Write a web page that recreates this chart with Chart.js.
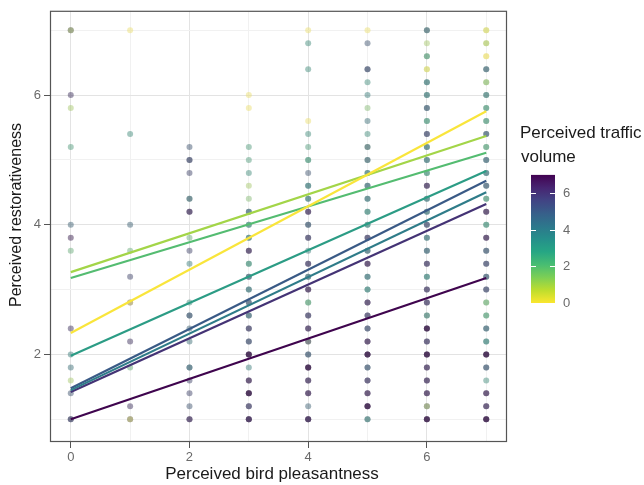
<!DOCTYPE html>
<html><head><meta charset="utf-8">
<script src="https://cdn.jsdelivr.net/npm/chart.js@4"></script>
<style>html,body{margin:0;padding:0;background:#fff}#wrap{width:644px;height:485px;position:relative}</style>
</head><body><div id="wrap"><canvas id="c" width="644" height="485"></canvas></div>
<script>
// ---------- DATA ----------
const xTitle = 'Perceived bird pleasantness';
const yTitle = 'Perceived restorativeness';
const legendTitle = ['Perceived traffic', 'volume'];
const xTicks = [0, 2, 4, 6];
const yTicks = [2, 4, 6];
const legendTicks = [0, 2, 4, 6];

// Points: per bird-pleasantness column, restorativeness levels and traffic values of overlapping observations
const col0Y = [7, 6, 5.8, 5.2, 4, 3.8, 3.6, 2.4, 2, 1.8, 1.6, 1.4, 1];
const col0Z = [[6.5,1],[6],[1],[2.5],[4.5],[6.5],[2],[6],[3.5],[4],[1],[5],[6.5,5]];
const col1Y = [7, 5.4, 4, 3.6, 3.2, 2.8, 2.2, 1.8, 1.2, 1];
const col1Z = [[0],[3],[4.5],[2],[5.5],[6,0],[6],[2],[6],[6.5,0.5]];
const col2Y = [5.2, 5, 4.8, 4.4, 4.2, 3.8, 3.6, 3.4, 2.8, 2.6, 2.4, 2.2, 1.8, 1.6, 1.4, 1.2, 1];
const col2Z = [[5],[6,5],[5.5],[2.5,5],[6.5,6],[2],[5.5],[3.5],[3],[4.5,5],[4.5],[4],[5,4],[5.5],[5.5],[5],[6.5,6]];
const col3Y = [6, 5.8, 5.2, 5, 4.8, 4.6, 4.4, 4.2, 4, 3.8, 3.6, 3.4, 3.2, 3, 2.8, 2.6, 2.4, 2.2, 2, 1.8, 1.6, 1.4, 1.2, 1];
const col3Z = [[0],[0],[2.5],[2.5],[3],[1],[1.5],[5,4],[3.5,3],[3,4],[6.5,6],[2.5,3],[4,5],[3.5,4],[4.5,5],[5,4],[5,6],[5.5,5],[6.5,6,7],[3.5],[6,6.5],[6.5,6,7],[6,5.5],[7,6.5,6]];
const col4Y = [7, 6.8, 6.4, 5.6, 5.4, 5.2, 5, 4.8, 4.6, 4.4, 4.2, 4, 3.8, 3.6, 3.4, 3.2, 3, 2.8, 2.6, 2.4, 2.2, 2, 1.8, 1.6, 1.4, 1.2, 1];
const col4Z = [[0],[3],[3],[0],[3],[2.5],[3,2.5],[5],[4,3.5],[3,4],[6.5,6],[4.5,5],[5,6],[3.5],[5.5,6],[4.5,4],[6,6.5],[3,2],[6,5.5],[6.5,6],[1.5,6],[4.5,5],[6.5,6,7],[6.5,6],[6,6.5],[4.5],[7,6.5,6]];
const col5Y = [7, 6.8, 6.4, 6.2, 6, 5.8, 5.6, 5.4, 5.2, 5, 4.8, 4.6, 4.4, 4.2, 4, 3.8, 3.6, 3.4, 3.2, 3, 2.8, 2.6, 2.4, 2.2, 2, 1.8, 1.6, 1.4, 1.2, 1];
const col5Z = [[0],[5],[5.5,5],[3],[3.5],[1.5],[4],[3],[2,5],[2.5,5],[3,4],[3.5,4.5],[3.5,4],[3.5,3],[3,3.5],[5,6],[4.5,4],[6,6.5],[3.5,4],[3,3.5],[6.5,6],[6,5.5],[5.5,5],[6,6.5],[6.5,6,7],[4.5,5],[5.5,6],[6,6.5],[6.5,6,7],[5,3]];
const col6Y = [7, 6.8, 6.6, 6.4, 6.2, 6, 5.8, 5.6, 5.4, 5.2, 5, 4.8, 4.6, 4.4, 4.2, 4, 3.8, 3.6, 3.4, 3.2, 3, 2.8, 2.6, 2.4, 2.2, 2, 1.8, 1.6, 1.4, 1.2, 1];
const col6Z = [[2.5,5],[1],[1.5,3],[0,0.5],[3,4],[3,4],[4,5],[3,2.5],[5,5.5],[3.5,4],[3.5,4],[2.5,3],[6.5,6],[3.5,4],[3.5,4],[5,5.5],[3.5,4],[4,4.5],[5.5,6],[3,3.5],[5.5,6],[5.5,6],[2,4],[6.5,6,7],[5.5,6],[6.5,6,7],[6.5,6],[6.5,6],[6,6.5],[6,1],[6.5,6,7]];
const col7Y = [7, 6.8, 6.6, 6.4, 6.2, 6, 5.8, 5.6, 5.4, 5.2, 5, 4.8, 4.6, 4.4, 4.2, 4, 3.8, 3.6, 3.4, 3.2, 3, 2.8, 2.6, 2.4, 2.2, 2, 1.8, 1.6, 1.4, 1.2, 1];
const col7Z = [[0,0.5],[0.5,1],[0,0],[3,5],[1,1.5],[2.5,4],[2,3],[2,3],[4,5],[2,2.5],[4,4.5],[3.5,4],[4,5],[2,3],[6,6.5],[2.5,3],[6,6.5],[4.5,5],[5,5.5],[5,4.5],[5,5.5],[1.5,2],[2,2.5],[4,4.5],[3,3.5],[6.5,6,7],[4.5,5],[3],[6,6.5],[6.5,6],[6.5,6,7]];

// Fitted lines, one per traffic level
const lineZ = [0, 1, 2, 3, 4, 5, 6, 7];
const lineX = [0, 7];
const lineStartY = [2.33, 3.27, 3.18, 1.98, 1.45, 1.48, 1.42, 1.00];
const lineEndY   = [5.75, 5.37, 5.11, 4.83, 4.50, 4.68, 4.32, 3.18];

// ---------- STYLE / HELPERS ----------
const FONT = '"Liberation Sans", Arial, Helvetica, sans-serif';
const VIR = ['#440154','#482475','#414487','#355f8d','#2a788e','#21918c','#22a884','#44bf70','#7ad151','#bddf26','#fde725'];
function hexRgb(h){return [parseInt(h.slice(1,3),16),parseInt(h.slice(3,5),16),parseInt(h.slice(5,7),16)];}
function viridis(t){
  t = Math.max(0, Math.min(1, t));
  const p = t * (VIR.length - 1), i = Math.min(VIR.length - 2, Math.floor(p)), f = p - i;
  const a = hexRgb(VIR[i]), b = hexRgb(VIR[i+1]);
  return [0,1,2].map(k => a[k] + (b[k]-a[k]) * f);
}
function trafficColor(z, alpha, desat){
  let c = viridis(1 - z / 7);
  if (desat) {
    const L = 0.3 * c[0] + 0.59 * c[1] + 0.11 * c[2];
    c = c.map(v => v * (1 - desat) + L * desat);
  }
  return 'rgba(' + c.map(v => Math.round(v)).join(',') + ',' + alpha + ')';
}

const colsY = [col0Y, col1Y, col2Y, col3Y, col4Y, col5Y, col6Y, col7Y];
const colsZ = [col0Z, col1Z, col2Z, col3Z, col4Z, col5Z, col6Z, col7Z];
const points = [];
colsY.forEach((ys, cx) => {
  ys.forEach((y, i) => {
    colsZ[cx][i].forEach(z => points.push({x: cx, y: y, z: z}));
  });
});

const lineDatasets = lineZ.map((z, i) => ({
  type: 'scatter',
  showLine: true,
  data: [{x: lineX[0], y: lineStartY[i]}, {x: lineX[1], y: lineEndY[i]}],
  borderColor: trafficColor(z, 1, 0.12),
  backgroundColor: trafficColor(z, 1, 0.12),
  borderWidth: 2.2,
  pointRadius: 0,
  fill: false,
  order: 0
}));

const pointDataset = {
  type: 'scatter',
  data: points,
  pointRadius: 3,
  pointBorderWidth: 0,
  pointBackgroundColor: ctx => trafficColor(ctx.raw ? ctx.raw.z : 0, 0.5, 0.45),
  pointBorderColor: 'rgba(0,0,0,0)',
  order: 1
};

const deco = {
  id: 'deco',
  afterDraw(chart) {
    const ctx = chart.ctx, a = chart.chartArea;
    ctx.save();
    // panel border
    ctx.strokeStyle = '#555555';
    ctx.lineWidth = 1.2;
    ctx.strokeRect(a.left + 0.5, a.top + 0.5, a.right - a.left - 1, a.bottom - a.top - 1);
    // axis titles
    ctx.fillStyle = '#1a1a1a';
    ctx.textAlign = 'center';
    ctx.textBaseline = 'middle';
    ctx.font = '17px ' + FONT;
    ctx.fillText(xTitle, 272, 474);
    ctx.save();
    ctx.translate(17, 215);
    ctx.rotate(-Math.PI / 2);
    ctx.font = '16px ' + FONT;
    ctx.fillText(yTitle, 0, 0);
    ctx.restore();
    // legend title
    ctx.textAlign = 'left';
    ctx.font = '17px ' + FONT;
    ctx.fillText(legendTitle[0], 520, 133);
    ctx.fillText(legendTitle[1], 521, 157);
    // colour bar
    const bx = 531, bw = 24, y0 = 303, unit = 18.3, ytop = y0 - 7 * unit;
    const g = ctx.createLinearGradient(0, y0, 0, ytop);
    for (let k = 0; k <= 20; k++) {
      const v = 7 * k / 20;
      g.addColorStop(k / 20, trafficColor(v, 1, 0.05));
    }
    ctx.fillStyle = g;
    ctx.fillRect(bx, ytop, bw, y0 - ytop);
    ctx.strokeStyle = '#ffffff';
    ctx.lineWidth = 1;
    ctx.fillStyle = '#6a6a6a';
    ctx.font = '13px ' + FONT;
    ctx.textBaseline = 'middle';
    legendTicks.forEach(v => {
      const y = Math.round(y0 - v * unit) + 0.5;
      ctx.beginPath();
      ctx.moveTo(bx, y); ctx.lineTo(bx + 5, y);
      ctx.moveTo(bx + bw - 5, y); ctx.lineTo(bx + bw, y);
      ctx.stroke();
      ctx.fillText(String(v), 563, y);
    });
    ctx.restore();
  }
};

const gridColor = c => (c.tick && Math.round(c.tick.value) % 2 !== 0) ? '#f1f1f1' : '#e3e3e3';
const tickMarkColor = c => (c.tick && Math.round(c.tick.value) % 2 !== 0) ? 'rgba(0,0,0,0)' : '#555555';

new Chart(document.getElementById('c').getContext('2d'), {
  type: 'scatter',
  data: { datasets: [...lineDatasets, pointDataset] },
  options: {
    responsive: false,
    devicePixelRatio: 1,
    animation: false,
    layout: { padding: { top: 8, right: 137, left: 0, bottom: 0 } },
    plugins: { legend: { display: false }, tooltip: { enabled: false } },
    scales: {
      x: {
        type: 'linear', min: -0.35, max: 7.35,
        afterBuildTicks: s => { s.ticks = [0,1,2,3,4,5,6,7].map(v => ({ value: v })); },
        afterFit: s => { s.height = 43; },
        ticks: {
          callback: v => xTicks.includes(v) ? String(v) : '',
          color: '#6a6a6a', font: { size: 13, family: FONT }, padding: 2,
          maxRotation: 0, autoSkip: false
        },
        grid: { color: gridColor, lineWidth: 1, tickColor: tickMarkColor, tickLength: 6 },
        border: { display: false }
      },
      y: {
        type: 'linear', min: 0.65, max: 7.30,
        afterBuildTicks: s => { s.ticks = [1,2,3,4,5,6,7].map(v => ({ value: v })); },
        afterFit: s => { s.width = 50; },
        ticks: {
          callback: v => yTicks.includes(v) ? String(v) : '',
          color: '#6a6a6a', font: { size: 13, family: FONT }, padding: 3, autoSkip: false
        },
        grid: { color: gridColor, lineWidth: 1, tickColor: tickMarkColor, tickLength: 6 },
        border: { display: false }
      }
    }
  },
  plugins: [deco]
});
</script></body></html>
